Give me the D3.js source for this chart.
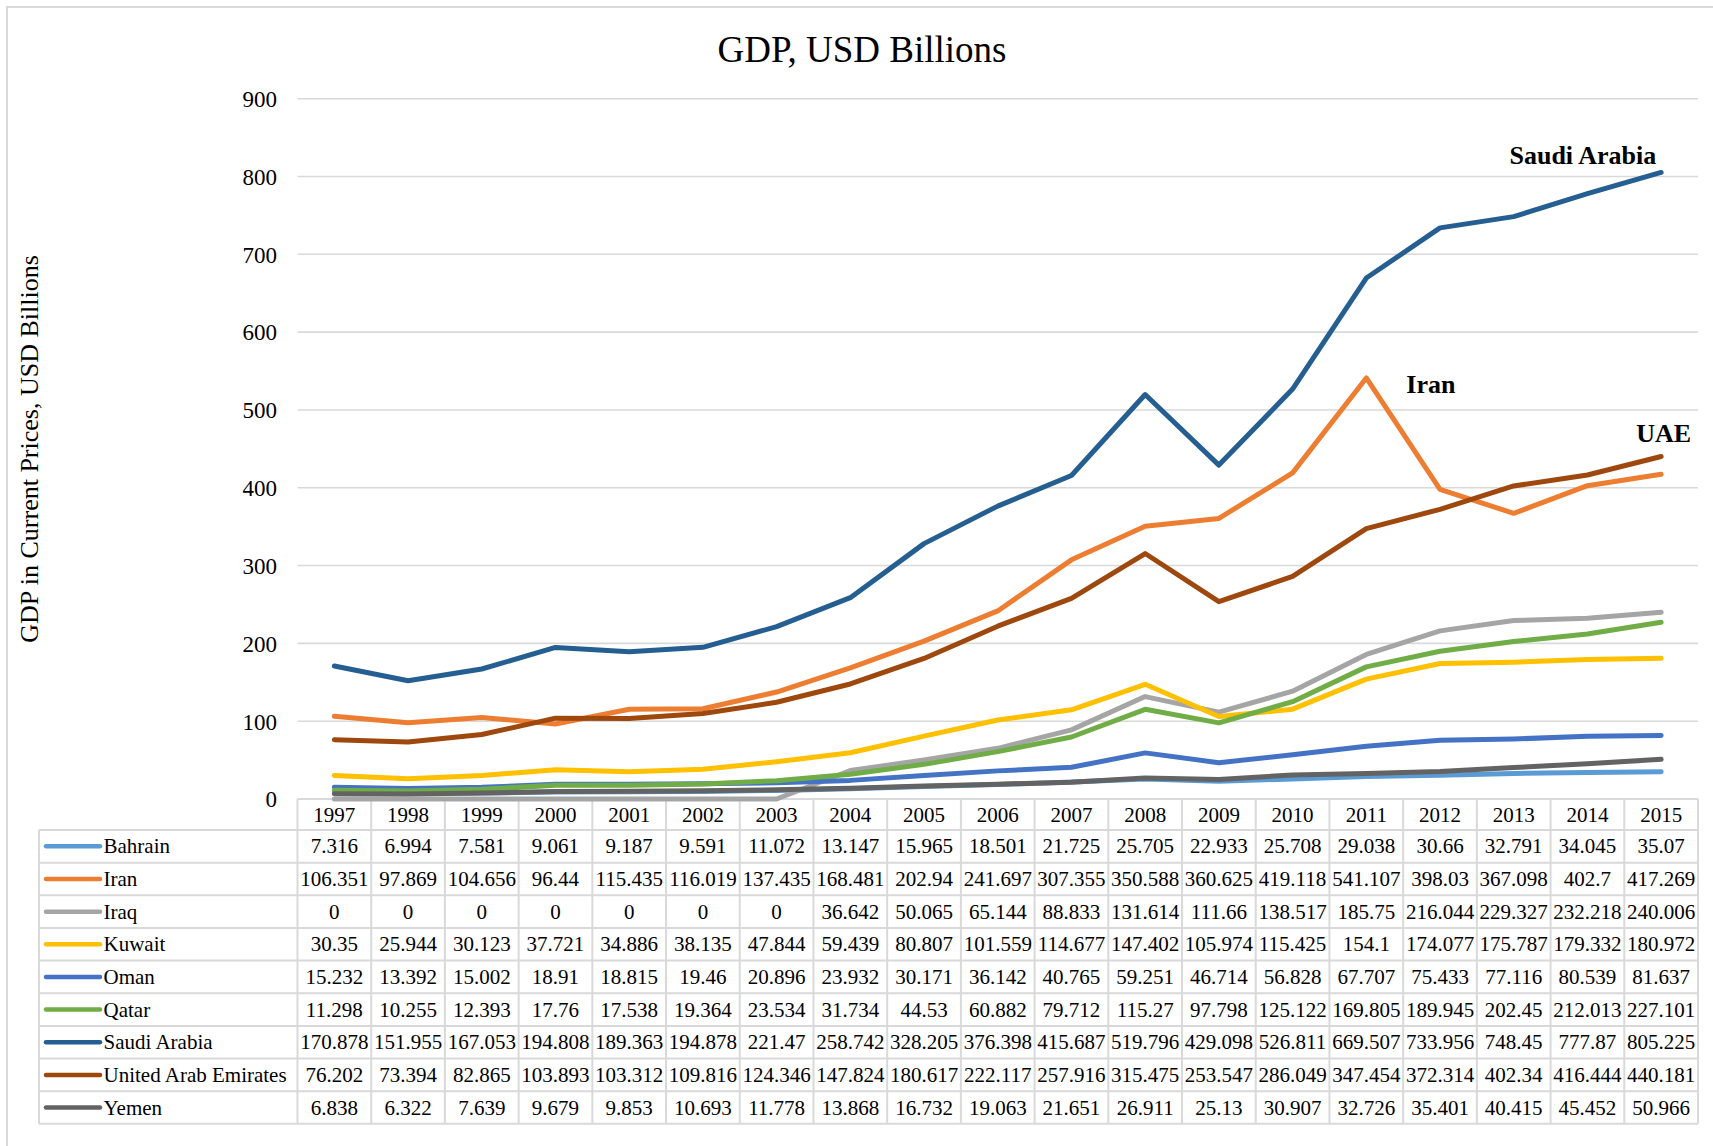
<!DOCTYPE html>
<html>
<head>
<meta charset="utf-8">
<script src="https://cdn.jsdelivr.net/npm/d3@7"></script>
<style>
  html, body { margin: 0; padding: 0; background: #fff; }
  svg { display: block; font-family: "Liberation Serif", "Times New Roman", serif; }
</style>
</head>
<body>
<script>
// GDP in current prices, USD billions, 1997-2015
const years = ["1997","1998","1999","2000","2001","2002","2003","2004","2005","2006","2007","2008","2009","2010","2011","2012","2013","2014","2015"];

const bahrain = [7.316, 6.994, 7.581, 9.061, 9.187, 9.591, 11.072, 13.147, 15.965, 18.501, 21.725, 25.705, 22.933, 25.708, 29.038, 30.66, 32.791, 34.045, 35.07];
const iran = [106.351, 97.869, 104.656, 96.44, 115.435, 116.019, 137.435, 168.481, 202.94, 241.697, 307.355, 350.588, 360.625, 419.118, 541.107, 398.03, 367.098, 402.7, 417.269];
const iraq = [0, 0, 0, 0, 0, 0, 0, 36.642, 50.065, 65.144, 88.833, 131.614, 111.66, 138.517, 185.75, 216.044, 229.327, 232.218, 240.006];
const kuwait = [30.35, 25.944, 30.123, 37.721, 34.886, 38.135, 47.844, 59.439, 80.807, 101.559, 114.677, 147.402, 105.974, 115.425, 154.1, 174.077, 175.787, 179.332, 180.972];
const oman = [15.232, 13.392, 15.002, 18.91, 18.815, 19.46, 20.896, 23.932, 30.171, 36.142, 40.765, 59.251, 46.714, 56.828, 67.707, 75.433, 77.116, 80.539, 81.637];
const qatar = [11.298, 10.255, 12.393, 17.76, 17.538, 19.364, 23.534, 31.734, 44.53, 60.882, 79.712, 115.27, 97.798, 125.122, 169.805, 189.945, 202.45, 212.013, 227.101];
const saudiArabia = [170.878, 151.955, 167.053, 194.808, 189.363, 194.878, 221.47, 258.742, 328.205, 376.398, 415.687, 519.796, 429.098, 526.811, 669.507, 733.956, 748.45, 777.87, 805.225];
const uae = [76.202, 73.394, 82.865, 103.893, 103.312, 109.816, 124.346, 147.824, 180.617, 222.117, 257.916, 315.475, 253.547, 286.049, 347.454, 372.314, 402.34, 416.444, 440.181];
const yemen = [6.838, 6.322, 7.639, 9.679, 9.853, 10.693, 11.778, 13.868, 16.732, 19.063, 21.651, 26.911, 25.13, 30.907, 32.726, 35.401, 40.415, 45.452, 50.966];

const countries = ["Bahrain","Iran","Iraq","Kuwait","Oman","Qatar","Saudi Arabia","United Arab Emirates","Yemen"];
const seriesValues = [bahrain, iran, iraq, kuwait, oman, qatar, saudiArabia, uae, yemen];
const colors = ["#5B9BD5","#ED7D31","#A5A5A5","#FFC000","#4472C4","#70AD47","#255E91","#9E480E","#636363"];
const yTicks = [0, 100, 200, 300, 400, 500, 600, 700, 800, 900];

const series = countries.map((name, i) => ({ name, color: colors[i], values: seriesValues[i] }));

const W = 1713, H = 1146;
const svg = d3.select("body").append("svg").attr("width", W).attr("height", H);

// outer chart frame
svg.append("rect").attr("x", 7).attr("y", 7).attr("width", W + 20).attr("height", H + 20)
  .attr("fill", "#fff").attr("stroke", "#D9D9D9").attr("stroke-width", 2);

const plotLeft = 297.5, plotRight = 1698;
const x = d3.scaleBand().domain(years).range([plotLeft, plotRight]).padding(0);
const y = d3.scaleLinear().domain([0, 900]).range([799, 98.7]);
const cx = yr => x(yr) + x.bandwidth() / 2;

// title
svg.append("text").attr("x", 862).attr("y", 62).attr("text-anchor", "middle")
  .attr("font-size", 37).attr("fill", "#000").text("GDP, USD Billions");

// y-axis title
svg.append("text").attr("transform", "translate(37.5,449) rotate(-90)")
  .attr("text-anchor", "middle").attr("font-size", 26).attr("fill", "#000")
  .text("GDP in Current Prices, USD Billions");

// gridlines
svg.append("g").selectAll("line").data(yTicks.filter(t => t > 0)).join("line")
  .attr("x1", plotLeft).attr("x2", plotRight)
  .attr("y1", d => y(d)).attr("y2", d => y(d))
  .attr("stroke", "#D9D9D9").attr("stroke-width", 1.6);

// y tick labels
const yAxis = d3.axisLeft(y).tickValues(yTicks).tickSize(0).tickPadding(0);
const yg = svg.append("g").attr("transform", "translate(277,0)").call(yAxis);
yg.select(".domain").remove();
yg.selectAll("text").attr("font-size", 23).attr("font-family", "Liberation Serif, serif")
  .attr("fill", "#000").attr("dy", "0.34em");

// data table
const tableLeft = 39, headerTop = 799, headerH = 31, rowH = 32.65;
const bodyTop = headerTop + headerH;
const grid = svg.append("g");
const tbl = svg.append("g").attr("font-size", 21).attr("fill", "#000");
const gridColor = "#D9D9D9";

// header row
tbl.selectAll("text.year").data(years).join("text").attr("class", "year")
  .attr("x", d => cx(d)).attr("y", headerTop + headerH / 2 + 7)
  .attr("text-anchor", "middle").text(d => d);

// body rows
series.forEach((s, i) => {
  const rc = bodyTop + rowH * i + rowH / 2;
  tbl.append("line").attr("x1", 46).attr("x2", 100).attr("y1", rc).attr("y2", rc)
    .attr("stroke", s.color).attr("stroke-width", 4.5).attr("stroke-linecap", "round");
  tbl.append("text").attr("x", 103.5).attr("y", rc + 7).text(s.name);
  tbl.append("g").selectAll("text").data(s.values).join("text")
    .attr("x", (d, j) => cx(years[j])).attr("y", rc + 7)
    .attr("text-anchor", "middle").text(d => String(d));
});

// table rules
const bodyBottom = bodyTop + rowH * series.length;
const hLines = [{ y: headerTop, x1: plotLeft }].concat(
  d3.range(series.length + 1).map(i => ({ y: bodyTop + rowH * i, x1: tableLeft })));
grid.selectAll("line.h").data(hLines).join("line").attr("class", "h")
  .attr("x1", d => d.x1).attr("x2", plotRight).attr("y1", d => d.y).attr("y2", d => d.y)
  .attr("stroke", gridColor).attr("stroke-width", 2);
const vLines = years.map(yr => x(yr)).concat([plotRight]);
grid.selectAll("line.v").data(vLines).join("line").attr("class", "v")
  .attr("x1", d => d).attr("x2", d => d).attr("y1", headerTop).attr("y2", bodyBottom)
  .attr("stroke", gridColor).attr("stroke-width", 2);
grid.append("line").attr("x1", tableLeft).attr("x2", tableLeft).attr("y1", bodyTop).attr("y2", bodyBottom)
  .attr("stroke", gridColor).attr("stroke-width", 2);

// series lines
const line = d3.line().x((d, j) => cx(years[j])).y(d => y(d));
svg.append("g").selectAll("path").data(series).join("path")
  .attr("d", d => line(d.values))
  .attr("fill", "none").attr("stroke", d => d.color).attr("stroke-width", 5)
  .attr("stroke-linejoin", "round").attr("stroke-linecap", "round");

// series labels
const labels = svg.append("g").attr("font-size", 26).attr("font-weight", "bold").attr("fill", "#000");
labels.append("text").attr("x", cx("2015") - 5).attr("y", y(805.225) - 8)
  .attr("text-anchor", "end").text("Saudi Arabia");
labels.append("text").attr("x", cx("2011") + 40).attr("y", y(541.107) + 15)
  .attr("text-anchor", "start").text("Iran");
labels.append("text").attr("x", cx("2015") + 30).attr("y", y(440.181) - 14)
  .attr("text-anchor", "end").text("UAE");
</script>
</body>
</html>
